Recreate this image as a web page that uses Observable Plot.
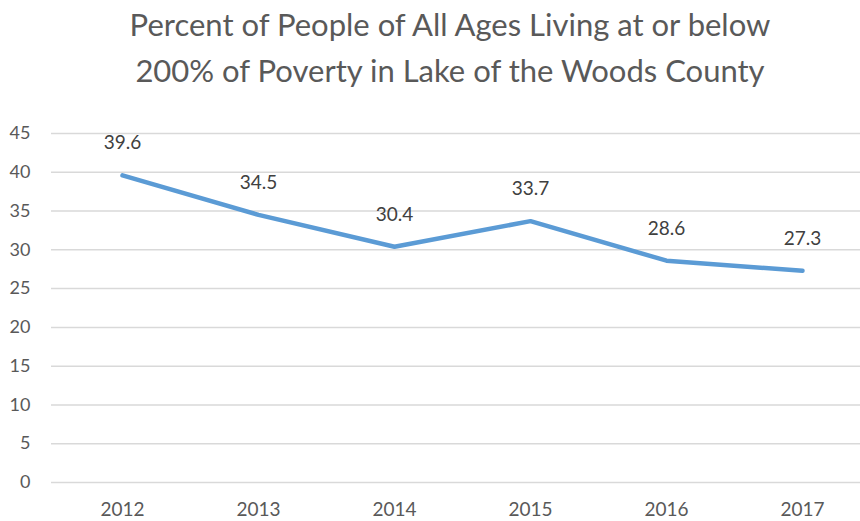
<!DOCTYPE html>
<html>
<head>
<meta charset="utf-8">
<script src="https://cdn.jsdelivr.net/npm/d3@7"></script>
<script src="https://cdn.jsdelivr.net/npm/@observablehq/plot@0.6"></script>
<style>
  html, body { margin: 0; padding: 0; background: #fff; }
  body { width: 860px; height: 521px; overflow: hidden; font-family: Lato, "Noto Sans", sans-serif; }
  #title { height: 105px; box-sizing: border-box; padding-top: 1px; padding-left: 40px; text-align: center; color: #595959; font-size: 31px; line-height: 46px; }
  #chart svg { display: block; }
</style>
</head>
<body>
<div id="title">Percent of People of All Ages Living at or below<br>200% of Poverty in Lake of the Woods County</div>
<div id="chart"></div>
<script>
const years = ["2012", "2013", "2014", "2015", "2016", "2017"];
const values = [39.6, 34.5, 30.4, 33.7, 28.6, 27.3];
const yTicks = [0, 5, 10, 15, 20, 25, 30, 35, 40, 45];

const data = years.map((year, i) => ({year, value: values[i]}));

const chart = Plot.plot({
  width: 860,
  height: 416,
  marginLeft: 51,
  marginRight: 0,
  marginTop: 28,
  marginBottom: 39,
  style: {fontFamily: "Lato, 'Noto Sans', sans-serif", fontSize: "18px", color: "#595959", background: "#fff"},
  x: {type: "point", domain: years, range: [120, 804], padding: 0, label: null},
  y: {domain: [0, 45], label: null},
  marks: [
    Plot.ruleY(yTicks, {y: d => d, stroke: "#d9d9d9", strokeWidth: 1.5, strokeOpacity: 1}),
    Plot.axisY({ticks: yTicks, tickSize: 0, tickPadding: 21, label: null, fill: "#595959", fontSize: 18}),
    Plot.axisX({tickSize: 0, tickPadding: 20, label: null, fill: "#595959", fontSize: 19}),
    Plot.line(data, {x: "year", y: "value", stroke: "#5b9bd5", strokeWidth: 4.5, strokeLinecap: "round", strokeLinejoin: "round"}),
    Plot.text(data, {x: "year", y: "value", text: d => d.value.toFixed(1), dy: -32, fill: "#404040", fontSize: 19})
  ]
});
document.getElementById("chart").appendChild(chart);
</script>
</body>
</html>
